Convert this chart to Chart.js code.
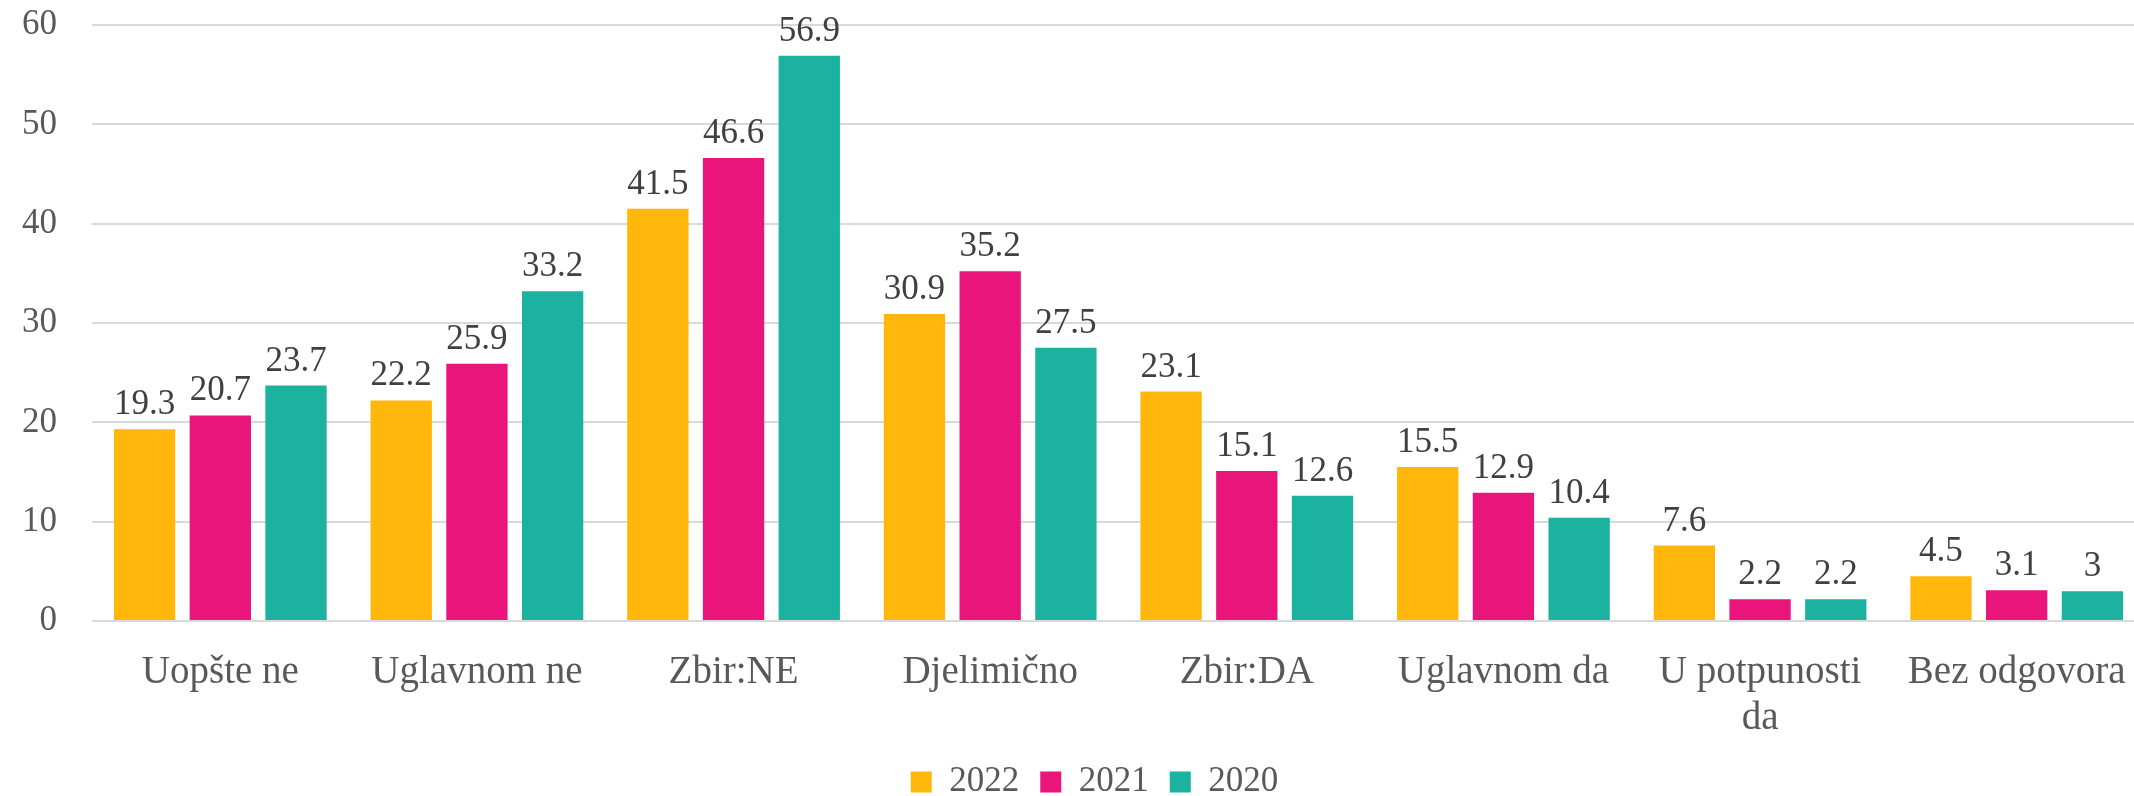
<!DOCTYPE html>
<html>
<head>
<meta charset="utf-8">
<script src="https://cdn.jsdelivr.net/npm/chart.js@4.4.1/dist/chart.umd.min.js"></script>
<style>
  html, body { margin: 0; padding: 0; background: #fff; overflow: hidden; }
  /* the original chart runs a little past the right edge of the picture */
  #wrap { width: 2145px; height: 796px; }
</style>
</head>
<body>
<div id="wrap"><canvas id="chart"></canvas></div>
<script>
const categories = ['Uopšte ne', 'Uglavnom ne', 'Zbir:NE', 'Djelimično', 'Zbir:DA', 'Uglavnom da', ['U potpunosti', 'da'], 'Bez odgovora'];
const years = ['2022', '2021', '2020'];
const values2022 = [19.3, 22.2, 41.5, 30.9, 23.1, 15.5, 7.6, 4.5];
const values2021 = [20.7, 25.9, 46.6, 35.2, 15.1, 12.9, 2.2, 3.1];
const values2020 = [23.7, 33.2, 56.9, 27.5, 12.6, 10.4, 2.2, 3];
const yMin = 0, yMax = 60, yStep = 10;

const colors = ['#FFB70B', '#EA157A', '#1BB3A0'];
const fontFamily = "'Liberation Serif', serif";

// draws the value above each bar
const valueLabels = {
    id: 'valueLabels',
    afterDatasetsDraw(chart) {
        const ctx = chart.ctx;
        ctx.save();
        ctx.font = '35px ' + fontFamily;
        ctx.fillStyle = '#404040';
        ctx.textAlign = 'center';
        ctx.textBaseline = 'alphabetic';
        chart.data.datasets.forEach((ds, i) => {
            chart.getDatasetMeta(i).data.forEach((bar, j) => {
                ctx.fillText(String(ds.data[j]), bar.x, bar.y - 15);
            });
        });
        ctx.restore();
    }
};

// legend in the original sits a bit right of the canvas centre
const legendShift = {
    id: 'legendShift',
    afterLayout(chart) {
        chart.legend.left += 22;
        chart.legend.right += 22;
    }
};

new Chart(document.getElementById('chart'), {
    type: 'bar',
    data: {
        labels: categories,
        datasets: [
            { label: years[0], data: values2022, backgroundColor: colors[0] },
            { label: years[1], data: values2021, backgroundColor: colors[1] },
            { label: years[2], data: values2020, backgroundColor: colors[2] }
        ]
    },
    options: {
        responsive: true,
        maintainAspectRatio: false,
        animation: false,
        categoryPercentage: 0.885,
        barPercentage: 0.81,
        layout: { padding: { top: 25, right: 0, left: 0, bottom: -13.5 } },
        plugins: {
            legend: {
                position: 'bottom',
                labels: {
                    boxWidth: 21,
                    boxHeight: 21,
                    padding: 21,
                    color: '#595959',
                    font: { family: fontFamily, size: 35 }
                }
            },
            tooltip: { enabled: false }
        },
        scales: {
            x: {
                grid: { display: false },
                border: { display: false },
                ticks: {
                    color: '#595959',
                    font: { family: fontFamily, size: 39 },
                    padding: 20,
                    maxRotation: 0,
                    autoSkip: false
                },
                afterFit(scale) {
                    scale.height = 122.5;
                    scale.paddingLeft = 0;
                    scale.paddingRight = 0;
                }
            },
            y: {
                min: yMin,
                max: yMax,
                ticks: {
                    stepSize: yStep,
                    color: '#595959',
                    padding: 35,
                    font: { family: fontFamily, size: 35 }
                },
                grid: { color: '#D9D9D9', lineWidth: 2, drawTicks: false },
                border: { display: false },
                afterFit(scale) {
                    scale.width = 92;
                    scale.paddingTop = 0;
                    scale.paddingBottom = 0;
                }
            }
        }
    },
    plugins: [valueLabels, legendShift]
});
</script>
</body>
</html>
